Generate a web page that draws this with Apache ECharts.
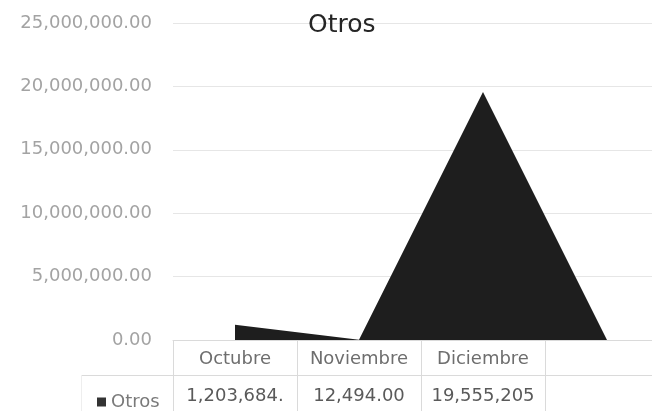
<!DOCTYPE html>
<html>
<head>
<meta charset="utf-8">
<script src="https://cdn.jsdelivr.net/npm/echarts@6/dist/echarts.min.js"></script>
<style>
  html, body { margin: 0; padding: 0; background: #fff; overflow: hidden; }
  /* el grafico original esta recortado a la derecha: el lienzo es mas ancho que la ventana */
  #main { width: 680px; height: 411px; }
</style>
</head>
<body>
<div id="main"></div>
<script>
// datos de la grafica
var categories = ['Octubre', 'Noviembre', 'Diciembre', ''];
var otros = [1203684, 12494, 19555205, 0];
// texto tal como sale en la tabla de datos (recortado)
var tableLabels = ['1,203,684.', '12,494.00', '19,555,205', ''];
var yTicks = { min: 0, max: 25000000, interval: 5000000 };

var font = 'DejaVu Sans';
var lineGray = '#dadada';

var myechart = echarts.init(document.getElementById('main'));
myechart.setOption({
  animation: false,
  title: {
    text: 'Otros',
    left: 303,
    top: 8,
    textStyle: { fontFamily: font, fontSize: 25, fontWeight: 'normal', color: '#262626' }
  },
  legend: {
    data: ['Otros'],
    left: 92,
    top: 388,
    icon: 'rect',
    itemWidth: 9,
    itemHeight: 9,
    itemGap: 6,
    textStyle: { fontFamily: font, fontSize: 18, color: '#7a7a7a' }
  },
  grid: { left: 173, right: 11, top: 23, bottom: 71 },
  xAxis: [
    {
      type: 'category',
      data: categories,
      boundaryGap: true,
      axisLine: { show: true, lineStyle: { color: lineGray } },
      axisTick: { show: true, interval: 0, alignWithLabel: false, length: 71, lineStyle: { color: lineGray } },
      axisLabel: { margin: 10, interval: 0, fontFamily: font, fontSize: 18, color: '#6e6e6e' }
    },
    {
      // fila de valores de la tabla
      type: 'category',
      position: 'bottom',
      offset: 35,
      data: tableLabels,
      boundaryGap: true,
      axisLine: { show: true, lineStyle: { color: lineGray } },
      axisTick: { show: false },
      axisLabel: { margin: 12, interval: 0, fontFamily: font, fontSize: 18, color: '#5a5a5a' }
    }
  ],
  yAxis: {
    type: 'value',
    min: yTicks.min,
    max: yTicks.max,
    interval: yTicks.interval,
    axisLine: { show: false },
    axisTick: { show: false },
    splitLine: { lineStyle: { color: '#e6e6e6' } },
    axisLabel: {
      margin: 21,
      fontFamily: font,
      fontSize: 18,
      color: '#a3a3a3',
      formatter: function (v) {
        return v.toLocaleString('en-US', { minimumFractionDigits: 2, maximumFractionDigits: 2 });
      }
    }
  },
  graphic: [
    // celda de la leyenda en la tabla
    { type: 'line', shape: { x1: 81, y1: 375.5, x2: 173, y2: 375.5 }, style: { stroke: lineGray, lineWidth: 1 } },
    { type: 'line', shape: { x1: 81.5, y1: 375, x2: 81.5, y2: 411 }, style: { stroke: '#eeeeee', lineWidth: 1 } }
  ],
  series: [
    {
      name: 'Otros',
      type: 'line',
      xAxisIndex: 0,
      data: otros,
      symbol: 'none',
      lineStyle: { width: 0, color: '#1e1e1e' },
      itemStyle: { color: '#333333' },
      areaStyle: { color: '#1e1e1e', opacity: 1 }
    }
  ]
});
</script>
</body>
</html>
